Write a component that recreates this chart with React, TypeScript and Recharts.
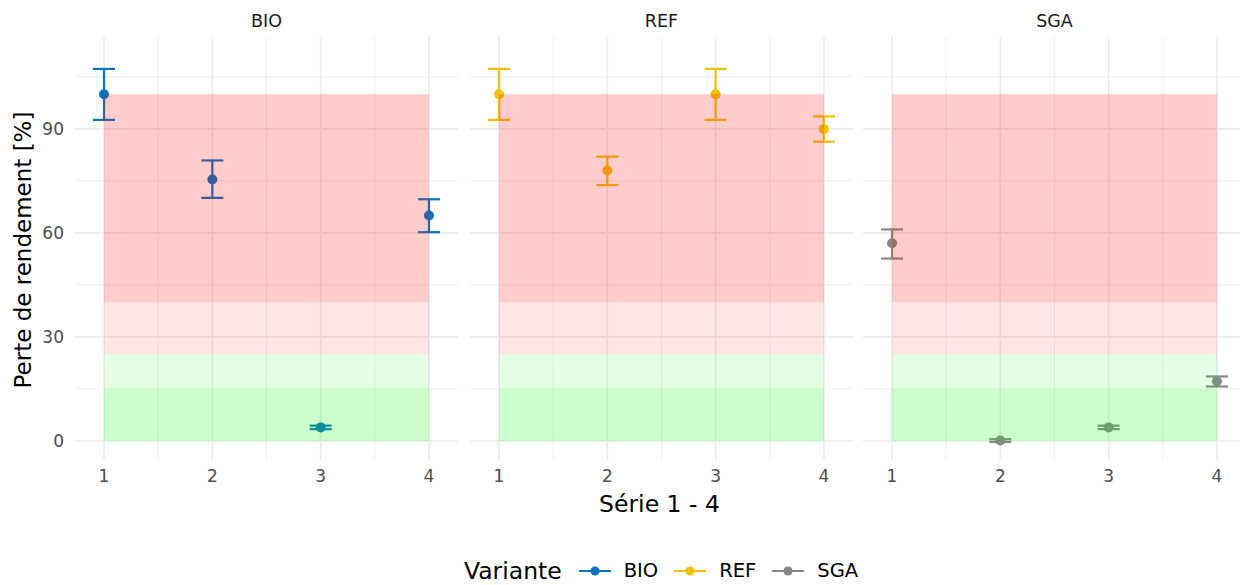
import React from 'react';
import { ScatterChart, Scatter, XAxis, YAxis, CartesianGrid, ReferenceArea, ErrorBar } from 'recharts';

const series = ['BIO', 'REF', 'SGA'];
const seriesColors = ['#0A72C4', '#F2C004', '#878787'];
const xValues = [1, 2, 3, 4];

const bioMean = [100, 75.4, 3.9, 65];
const bioLow = [92.6, 70.1, 3.4, 60.2];
const bioHigh = [107.3, 80.9, 4.4, 69.7];

const refMean = [100, 78, 100, 90];
const refLow = [92.6, 73.8, 92.6, 86.3];
const refHigh = [107.3, 82, 107.3, 93.6];

const sgaMean = [57, 0.1, 3.9, 17.2];
const sgaLow = [52.6, -0.3, 3.4, 15.7];
const sgaHigh = [61, 0.5, 4.4, 18.6];

const bandLow = [0, 15, 25, 40];
const bandHigh = [15, 25, 40, 100];
const bandColors = ['#00FF00', '#00FF00', '#FF0000', '#FF0000'];
const bandAlpha = [0.2, 0.1, 0.1, 0.2];
const bandStart = 1;
const bandEnd = 4;

const yTicks = [0, 30, 60, 90];
const yMinor = [15, 45, 75, 105];
const xMinor = [1.5, 2.5, 3.5];
const xDomain = [0.732, 4.268];
const yDomain = [-5.5, 116.5];

const means = [bioMean, refMean, sgaMean];
const lows = [bioLow, refLow, sgaLow];
const highs = [bioHigh, refHigh, sgaHigh];

const FONT = '"DejaVu Sans", sans-serif';

const panelLefts = [75, 470, 863];
const panelWidth = 383;
const plotTop = 37;
const chartHeight = 500;
const xAxisHeight = 40;

function buildData(i: number) {
  return xValues.map((x, j) => ({
    x,
    y: means[i][j],
    err: [means[i][j] - lows[i][j], highs[i][j] - means[i][j]],
  }));
}

const Dot = (color: string) => (props: any) => (
  <circle cx={props.cx} cy={props.cy} r={5} fill={color} />
);

function Panel({ i }: { i: number }) {
  const showY = i === 0;
  const yAxisWidth = showY ? panelLefts[0] : 0;
  const left = showY ? 0 : panelLefts[i];
  const width = panelWidth + yAxisWidth;
  const color = seriesColors[i];
  return (
    <div style={{ position: 'absolute', left, top: 0 }}>
      <ScatterChart width={width} height={chartHeight} margin={{ top: plotTop, right: 0, bottom: 0, left: 0 }}>
        <CartesianGrid
          horizontalValues={yMinor}
          verticalValues={xMinor}
          stroke="#EBEBEB"
          strokeWidth={0.8}
        />
        <CartesianGrid
          horizontalValues={yTicks}
          verticalValues={xValues}
          stroke="#EBEBEB"
          strokeWidth={1.6}
        />
        <XAxis
          type="number"
          dataKey="x"
          domain={xDomain}
          ticks={xValues}
          allowDataOverflow
          axisLine={false}
          tickLine={false}
          tickMargin={4}
          height={xAxisHeight}
          tick={{ fill: '#4D4D4D', fontSize: 17, fontFamily: FONT }}
        />
        <YAxis
          type="number"
          dataKey="y"
          domain={yDomain}
          ticks={yTicks}
          allowDataOverflow
          axisLine={false}
          tickLine={false}
          tickMargin={5}
          width={yAxisWidth}
          hide={!showY}
          tick={{ fill: '#4D4D4D', fontSize: 17, fontFamily: FONT }}
        />
        <Scatter data={buildData(i)} fill={color} shape={Dot(color)} isAnimationActive={false}>
          <ErrorBar dataKey="err" direction="y" width={11} stroke={color} strokeWidth={2.2} />
        </Scatter>
        {bandLow.map((lo, k) => (
          <ReferenceArea
            key={k}
            x1={bandStart}
            x2={bandEnd}
            y1={lo}
            y2={bandHigh[k]}
            fill={bandColors[k]}
            fillOpacity={bandAlpha[k]}
            stroke="none"
            ifOverflow="visible"
            {...({ zIndex: 1000 } as any)}
          />
        ))}
      </ScatterChart>
    </div>
  );
}

function LegendMarker({ color }: { color: string }) {
  return (
    <svg width={34} height={16} style={{ display: 'inline-block', verticalAlign: 'middle' }}>
      <line x1={1} y1={8} x2={33} y2={8} stroke={color} strokeWidth={2} />
      <circle cx={17} cy={8} r={4.6} fill={color} />
    </svg>
  );
}

export default function App() {
  return (
    <div style={{ position: 'absolute', left: 0, top: 0, width: 1240, height: 585, overflow: 'hidden', background: '#fff', fontFamily: FONT }}>
      {series.map((s, i) => (
        <Panel key={s} i={i} />
      ))}
      {series.map((s, i) => (
        <div
          key={'strip' + s}
          style={{
            position: 'absolute',
            left: panelLefts[i],
            width: panelWidth,
            top: 10,
            lineHeight: '22px',
            textAlign: 'center',
            fontSize: 17.5,
            color: '#1A1A1A',
          }}
        >
          {s}
        </div>
      ))}
      <div
        style={{
          position: 'absolute',
          left: 23 - 175,
          top: 250 - 14,
          width: 350,
          height: 28,
          textAlign: 'center',
          fontSize: 23,
          lineHeight: '28px',
          color: '#000',
          transform: 'rotate(-90deg)',
        }}
      >
        Perte de rendement [%]
      </div>
      <div
        style={{
          position: 'absolute',
          left: 75,
          width: 1244 - 75,
          top: 490,
          textAlign: 'center',
          fontSize: 23.5,
          lineHeight: '28px',
          color: '#000',
        }}
      >
        Série 1 - 4
      </div>
      <div
        style={{
          position: 'absolute',
          left: 0,
          width: 1240,
          top: 557,
          display: 'flex',
          justifyContent: 'center',
          alignItems: 'center',
          height: 28,
          lineHeight: '28px',
          paddingLeft: 82,
          boxSizing: 'border-box',
        }}
      >
        <span style={{ fontSize: 23.5, lineHeight: '28px', color: '#000', marginRight: 16 }}>Variante</span>
        {series.map((s, i) => (
          <span key={'leg' + s} style={{ display: 'inline-flex', alignItems: 'center', marginRight: i < series.length - 1 ? 15 : 0 }}>
            <LegendMarker color={seriesColors[i]} />
            <span style={{ fontSize: 19.5, lineHeight: '28px', color: '#000', marginLeft: 12 }}>{s}</span>
          </span>
        ))}
      </div>
    </div>
  );
}
